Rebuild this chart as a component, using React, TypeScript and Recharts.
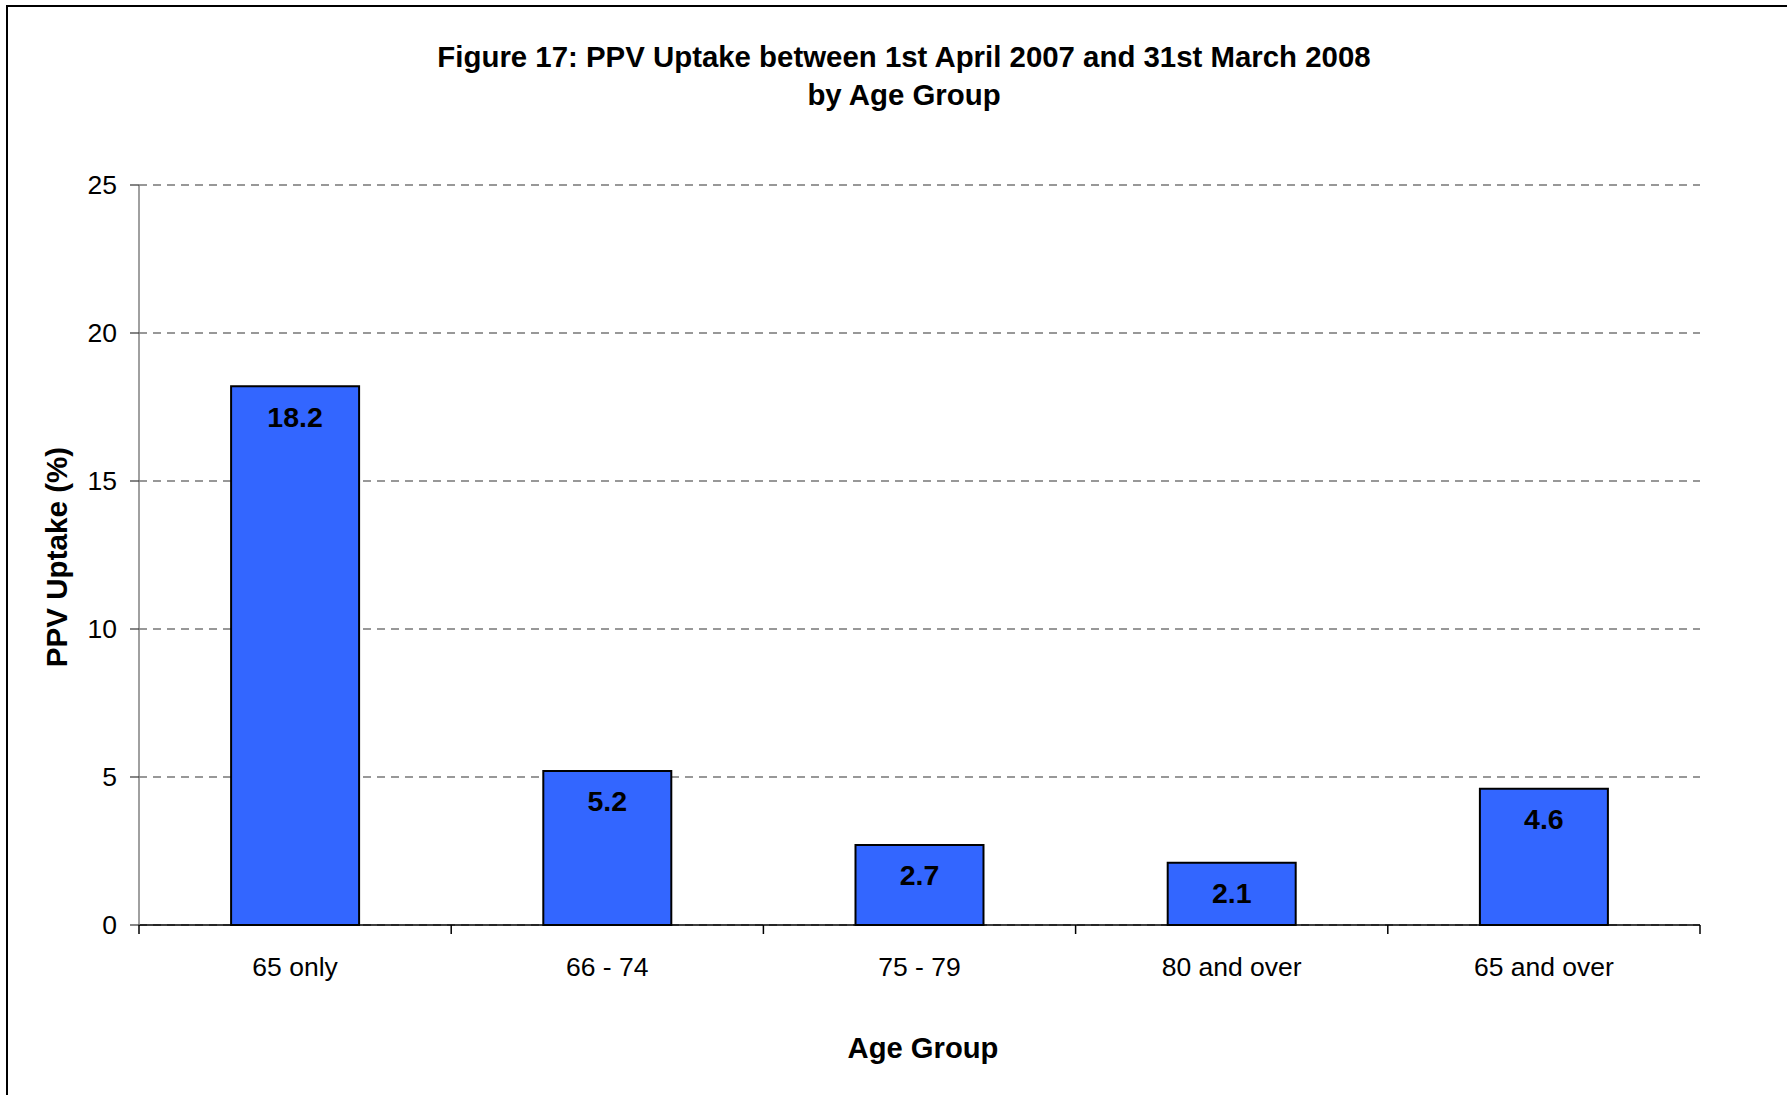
import React from 'react';
import { BarChart, Bar, XAxis, YAxis, CartesianGrid, LabelList } from 'recharts';

const categories = ['65 only', '66 - 74', '75 - 79', '80 and over', '65 and over'];
const uptake = [18.2, 5.2, 2.7, 2.1, 4.6];
const yTicks = [0, 5, 10, 15, 20, 25];
const titleLines = ['Figure 17: PPV Uptake between 1st April 2007 and 31st March 2008', 'by Age Group'];
const xTitle = 'Age Group';
const yTitle = 'PPV Uptake (%)';

const data = categories.map((c, i) => ({ group: c, value: uptake[i] }));

const FONT = '"Liberation Sans", Arial, Helvetica, sans-serif';
const W = 1787;
const H = 1095;
const MARGIN = { top: 185, right: 87, bottom: 110, left: 0 };
const Y_AXIS_W = 139;
const X_AXIS_H = 60;
const PLOT_W = W - MARGIN.left - MARGIN.right - Y_AXIS_W;
const BAND_HALF = PLOT_W / categories.length / 2;

const XTick = (props: any) => {
  const { x, y, payload, index, visibleTicksCount } = props;
  const left = x - BAND_HALF;
  const right = x + BAND_HALF;
  return (
    <g>
      <line x1={left} x2={left} y1={y} y2={y + 9} stroke="#000" strokeWidth={1.5} />
      {index === visibleTicksCount - 1 && (
        <line x1={right} x2={right} y1={y} y2={y + 9} stroke="#000" strokeWidth={1.5} />
      )}
      <text
        x={x}
        y={y + 42}
        textAnchor="middle"
        dominantBaseline="central"
        fontSize={26.5}
        fill="#000"
        fontFamily={FONT}
      >
        {payload.value}
      </text>
    </g>
  );
};

export default function App() {
  return (
    <div style={{ position: 'absolute', left: 0, top: 0, width: W, height: H, overflow: 'hidden', background: '#fff' }}>
      <div
        style={{
          position: 'absolute',
          left: 6,
          top: 5,
          width: W + 50,
          height: H + 50,
          border: '2px solid #000',
          boxSizing: 'border-box',
        }}
      />
      {titleLines.map((t, i) => (
        <div
          key={i}
          style={{
            position: 'absolute',
            left: 904 - 700,
            width: 1400,
            top: 57 + i * 37.5 - 17,
            height: 34,
            lineHeight: '34px',
            textAlign: 'center',
            fontFamily: FONT,
            fontWeight: 'bold',
            fontSize: 29.4,
            color: '#000',
            whiteSpace: 'nowrap',
          }}
        >
          {t}
        </div>
      ))}
      <div
        style={{
          position: 'absolute',
          left: 923 - 200,
          width: 400,
          top: 1048 - 17,
          height: 34,
          lineHeight: '34px',
          textAlign: 'center',
          fontFamily: FONT,
          fontWeight: 'bold',
          fontSize: 29.2,
          color: '#000',
        }}
      >
        {xTitle}
      </div>
      <div
        style={{
          position: 'absolute',
          left: 57 - 200,
          width: 400,
          top: 557 - 17,
          height: 34,
          lineHeight: '34px',
          textAlign: 'center',
          fontFamily: FONT,
          fontWeight: 'bold',
          fontSize: 29.6,
          color: '#000',
          transform: 'rotate(-90deg)',
          transformOrigin: '50% 50%',
        }}
      >
        {yTitle}
      </div>
      <div style={{ position: 'absolute', left: 0, top: 0 }}>
        <BarChart width={W} height={H} data={data} margin={MARGIN} barCategoryGap="29.5%">
          <CartesianGrid vertical={false} stroke="#333" strokeDasharray="8 6" strokeWidth={1.2} />
          <XAxis
            dataKey="group"
            height={X_AXIS_H}
            axisLine={{ stroke: '#000', strokeWidth: 1.5 }}
            tickLine={false}
            tickSize={0}
            tickMargin={0}
            interval={0}
            tick={<XTick />}
          />
          <YAxis
            width={Y_AXIS_W}
            domain={[0, 25]}
            ticks={yTicks}
            interval={0}
            axisLine={{ stroke: '#808080', strokeWidth: 1.5 }}
            tickLine={{ stroke: '#333', strokeWidth: 1.2 }}
            tickSize={9}
            tickMargin={13}
            tick={{ fontSize: 26.5, fill: '#000', fontFamily: FONT }}
          />
          <Bar dataKey="value" fill="#3366FF" stroke="#000" strokeWidth={2} isAnimationActive={false}>
            <LabelList
              dataKey="value"
              position="insideTop"
              offset={20}
              style={{ fontSize: 28.5, fontWeight: 'bold', fill: '#000', fontFamily: FONT }}
              formatter={(v: any) => Number(v).toFixed(1)}
            />
          </Bar>
        </BarChart>
      </div>
    </div>
  );
}
